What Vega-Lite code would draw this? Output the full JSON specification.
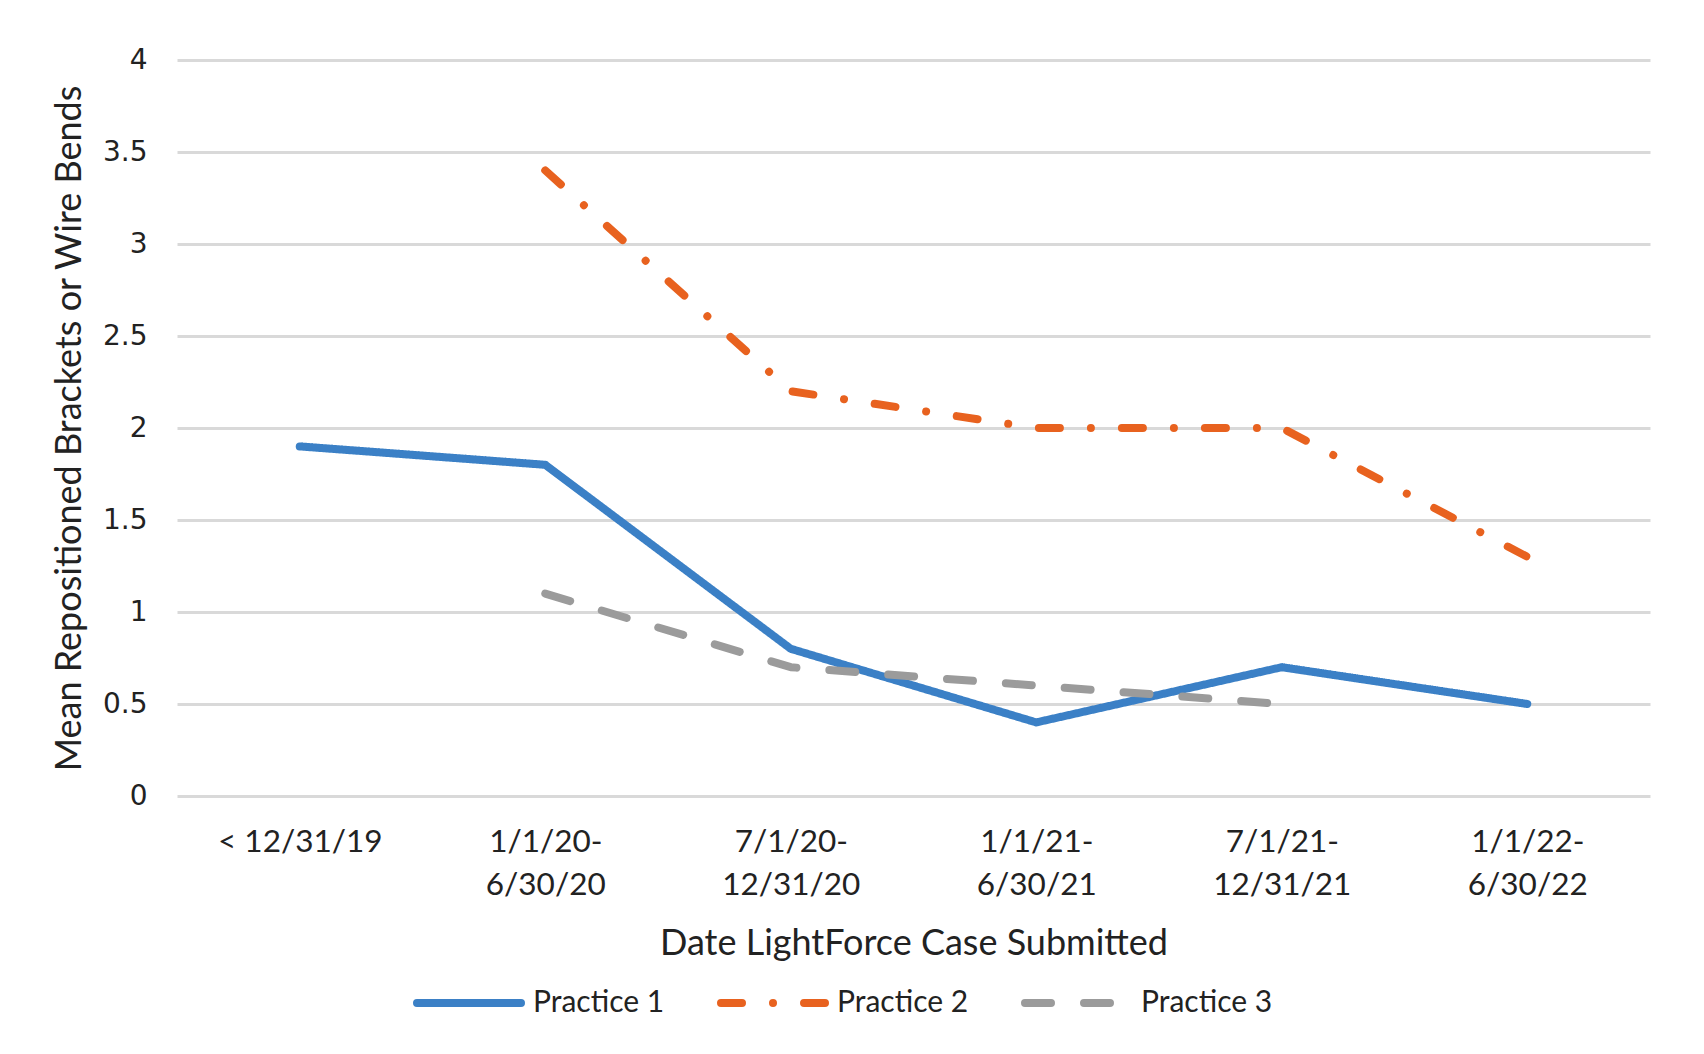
{
  "$schema": "https://vega.github.io/schema/vega-lite/v6.json",
  "width": 1473,
  "height": 736,
  "autosize": {"type": "none"},
  "padding": {"left": 177, "top": 60, "right": 54, "bottom": 258},
  "background": "white",
  "data": {
    "values": [
      {"period": "< 12/31/19", "series": "Practice 1", "value": 1.9},
      {"period": "1/1/20-6/30/20", "series": "Practice 1", "value": 1.8},
      {"period": "7/1/20-12/31/20", "series": "Practice 1", "value": 0.8},
      {"period": "1/1/21-6/30/21", "series": "Practice 1", "value": 0.4},
      {"period": "7/1/21-12/31/21", "series": "Practice 1", "value": 0.7},
      {"period": "1/1/22-6/30/22", "series": "Practice 1", "value": 0.5},
      {"period": "1/1/20-6/30/20", "series": "Practice 2", "value": 3.4},
      {"period": "7/1/20-12/31/20", "series": "Practice 2", "value": 2.2},
      {"period": "1/1/21-6/30/21", "series": "Practice 2", "value": 2.0},
      {"period": "7/1/21-12/31/21", "series": "Practice 2", "value": 2.0},
      {"period": "1/1/22-6/30/22", "series": "Practice 2", "value": 1.3},
      {"period": "1/1/20-6/30/20", "series": "Practice 3", "value": 1.1},
      {"period": "7/1/20-12/31/20", "series": "Practice 3", "value": 0.7},
      {"period": "1/1/21-6/30/21", "series": "Practice 3", "value": 0.6},
      {"period": "7/1/21-12/31/21", "series": "Practice 3", "value": 0.5}
    ]
  },
  "mark": {"type": "line", "strokeWidth": 8, "strokeCap": "round", "strokeJoin": "round"},
  "encoding": {
    "x": {
      "field": "period",
      "type": "ordinal",
      "sort": ["< 12/31/19", "1/1/20-6/30/20", "7/1/20-12/31/20", "1/1/21-6/30/21", "7/1/21-12/31/21", "1/1/22-6/30/22"],
      "scale": {"type": "point", "padding": 0.5},
      "axis": {
        "title": "Date LightForce Case Submitted",
        "labelAngle": 0,
        "labelExpr": "indexof(datum.label, '-') > 0 ? [slice(datum.label, 0, indexof(datum.label, '-') + 1), slice(datum.label, indexof(datum.label, '-') + 1)] : datum.label",
        "labelBaseline": "top",
        "labelPadding": 30,
        "labelFontSize": 31.5,
        "labelLineHeight": 43,
        "labelFont": "Lato",
        "labelColor": "#222222",
        "domain": false,
        "ticks": false,
        "grid": false,
        "titleFont": "Lato",
        "titleFontSize": 36,
        "titleFontWeight": "normal",
        "titleColor": "#222222",
        "titlePadding": 26
      }
    },
    "y": {
      "field": "value",
      "type": "quantitative",
      "scale": {"domain": [0, 4], "nice": false},
      "axis": {
        "title": "Mean Repositioned Brackets or Wire Bends",
        "values": [0, 0.5, 1, 1.5, 2, 2.5, 3, 3.5, 4],
        "format": "~g",
        "labelFont": "DejaVu Sans",
        "labelFontSize": 28,
        "labelColor": "#222222",
        "labelPadding": 30,
        "domain": false,
        "ticks": false,
        "gridColor": "#d9d9d9",
        "gridWidth": 3,
        "titleFont": "Lato",
        "titleFontSize": 36,
        "titleFontWeight": "normal",
        "titleColor": "#222222",
        "titlePadding": 14
      }
    },
    "color": {
      "field": "series",
      "type": "nominal",
      "scale": {"domain": ["Practice 1", "Practice 2", "Practice 3"], "range": ["#3b80c6", "#e8621f", "#9b9b9b"]},
      "legend": {
        "title": null,
        "orient": "none",
        "direction": "horizontal",
        "columns": 3,
        "legendX": 236,
        "legendY": 887,
        "padding": 0,
        "symbolType": "stroke",
        "symbolSize": 10816,
        "symbolStrokeWidth": 8,
        "labelFont": "Lato",
        "labelFontSize": 30,
        "labelColor": "#222222",
        "labelOffset": 8,
        "columnPadding": 40,
        "labelLimit": 300,
        "encode": {"symbols": {"update": {"strokeCap": {"value": "round"}}}}
      }
    },
    "strokeDash": {
      "field": "series",
      "type": "nominal",
      "scale": {"domain": ["Practice 1", "Practice 2", "Practice 3"], "range": [[1, 0], [21, 31, 0.01, 31], [26, 33]]},
      "legend": null
    }
  },
  "config": {"view": {"stroke": null}}
}
